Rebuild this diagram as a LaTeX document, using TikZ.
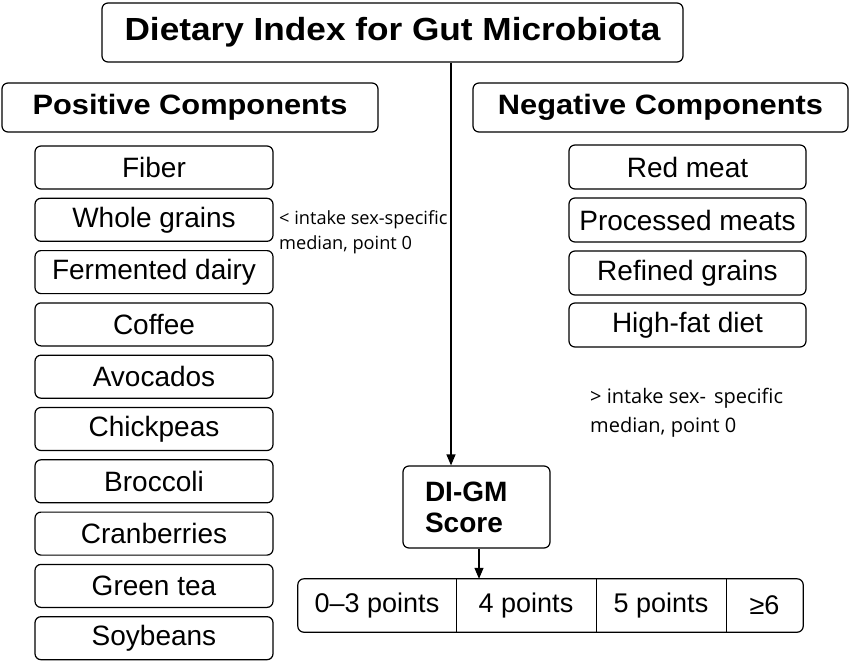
\documentclass[tikz,border=0pt]{standalone}
\usepackage{fontspec}
\setmainfont{Liberation Sans}
\newfontfamily\headfont[FakeStretch=1.1]{Liberation Sans}
\newfontfamily\notefont{Open Sans}
\usetikzlibrary{positioning,arrows.meta}

\begin{document}
\begin{tikzpicture}[x=1pt,y=-1pt,
  box/.style={rectangle, draw, rounded corners=6pt, line width=1.2pt, inner sep=0pt},
  head/.style={box, minimum height=49pt, font=\headfont\bfseries\fontsize{28}{30}\selectfont},
  item/.style={box, minimum width=238pt, minimum height=43pt, font=\fontsize{28}{30}\selectfont},
  cell/.style={rectangle, inner sep=0pt, minimum height=53pt, font=\fontsize{27}{30}\selectfont},
  note/.style={anchor=west, align=left, inner sep=0pt, font=\notefont},
  arr/.style={line width=1.2pt, -{Triangle[length=11pt,width=9pt]}}]
\useasboundingbox (0,0) rectangle (851,663);

\node[box, minimum width=581pt, minimum height=59pt, font=\headfont\bfseries\fontsize{32}{34}\selectfont] (title) at (392.5,32.5) {Dietary Index for Gut Microbiota};

\node[head, minimum width=376pt] (pos) at (190,107.5) {Positive Components};
\node[head, minimum width=375pt] (neg) at (660.5,107.5) {Negative Components};

% positive components
\node[item] (fib) at (154,167.5) {Fiber};
\node[item] (whole) at (154,219.8) {Whole grains};
\node[item] (ferm) at (154,272.1) {Fermented dairy};
\node[item] (cof) at (154,324.4) {Coffee};
\node[item] (avo) at (154,376.7) {Avocados};
\node[item] (chick) at (154,429) {Chickpeas};
\node[item] (broc) at (154,481.3) {Broccoli};
\node[item] (cran) at (154,533.6) {Cranberries};
\node[item] (tea) at (154,585.9) {Green tea};
\node[item] (soy) at (154,638.2) {Soybeans};

% negative components
\node[item, minimum width=237pt, minimum height=44pt] (red) at (687.5,167) {Red meat};
\node[item, minimum width=237pt, minimum height=44pt] (proc) at (687.5,220) {Processed meats};
\node[item, minimum width=237pt, minimum height=44pt] (refi) at (687.5,273) {Refined grains};
\node[item, minimum width=237pt, minimum height=44pt] (fat) at (687.5,325) {High-fat diet};

\node[note, font=\notefont\fontsize{18.2}{25}\selectfont] (lown) at (279,232.5) {< intake sex-specific\\median, point 0};
\node[note, font=\notefont\fontsize{20}{29}\selectfont] (highn) at (590,412.5) {> intake sex-\hspace{0.4em}specific\\median, point 0};

\node[box, text width=103pt, inner xsep=22pt, align=left, minimum height=82pt, font=\bfseries\fontsize{28}{31}\selectfont] (dig) at (476.5,507) {DI-GM\\Score};

% score bands
\node[cell, minimum width=158pt] (c1) at (377,605.5) {0–3 points};
\node[cell, minimum width=140pt] (c2) at (526,605.5) {4 points};
\node[cell, minimum width=130pt] (c3) at (661,605.5) {5 points};
\node[cell, minimum width=77pt] (c4) at (764.5,605.5) {≥6};
\draw[line width=1.2pt, rounded corners=6pt] (c1.north west) rectangle (c4.south east);
\draw[line width=1pt] (c1.north east) -- (c1.south east);
\draw[line width=1pt] (c2.north east) -- (c2.south east);
\draw[line width=1pt] (c3.north east) -- (c3.south east);

\draw[arr] ([xshift=58.5pt]title.south) -- ([xshift=-25.5pt]dig.north);
\draw[arr] ([xshift=2.5pt]dig.south) -- ([xshift=2.5pt]dig.south |- c2.north);
\end{tikzpicture}
\end{document}
